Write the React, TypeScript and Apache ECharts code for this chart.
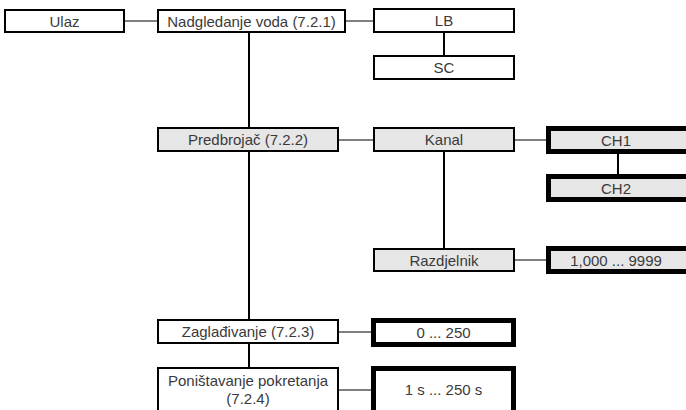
import React, { useEffect, useRef } from "react";
import * as echarts from "echarts";

// Node labels (content)
const nodeLabels = [
  "Ulaz",
  "Nadgledanje voda (7.2.1)",
  "LB",
  "SC",
  "Predbrojač (7.2.2)",
  "Kanal",
  "CH1",
  "CH2",
  "Razdjelnik",
  "1,000 ... 9999",
  "Zaglađivanje (7.2.3)",
  "0 ... 250",
  "Poništavanje pokretanja\n(7.2.4)",
  "1 s ... 250 s",
];

// Box kinds: 0 = white thin, 1 = grey thin, 2 = grey thick, 3 = white thick
const nodeKinds = [0, 0, 0, 0, 1, 1, 2, 2, 1, 2, 0, 3, 0, 3];

// Connections: [from, to, kind] kind 0 = grey horizontal, 1 = black vertical
const links: [number, number, number][] = [
  [0, 1, 0],
  [1, 2, 0],
  [2, 3, 1],
  [1, 4, 1],
  [4, 5, 0],
  [5, 6, 0],
  [6, 7, 1],
  [5, 8, 1],
  [8, 9, 0],
  [4, 10, 1],
  [10, 11, 0],
  [10, 12, 1],
  [12, 13, 0],
];

// Layout (outer box bounds in px): x0, y0, x1, y1
const layout: [number, number, number, number][] = [
  [4, 9, 125, 33],
  [157, 9, 346, 33],
  [373, 8, 515, 33],
  [373, 55, 515, 80],
  [157, 127, 339, 152],
  [373, 127, 515, 152],
  [546, 126, 700, 154],
  [546, 174, 700, 202],
  [373, 248, 515, 272],
  [546, 246, 700, 274],
  [157, 319, 339, 344],
  [371, 318, 516, 347],
  [157, 367, 339, 420],
  [371, 366, 516, 420],
];
// vertical link x positions (for from-node index)
const vertX: Record<string, number> = {
  "2-3": 444,
  "1-4": 249,
  "6-7": 618,
  "5-8": 444,
  "4-10": 249,
  "10-12": 249,
};
const textCenterY: Record<number, number> = { 12: 389, 13: 389 };

export default function App() {
  const ref = useRef<HTMLDivElement>(null);
  useEffect(() => {
    if (!ref.current) return;
    const chart = echarts.init(ref.current, null, { renderer: "svg" });
    const els: any[] = [];
    // links first
    links.forEach(([a, b, k]) => {
      const A = layout[a];
      const B = layout[b];
      if (k === 0) {
        const y = b === 13 ? 390 : Math.round((A[1] + A[3]) / 2);
        els.push({
          type: "line",
          shape: { x1: A[2], y1: y, x2: B[0], y2: y },
          style: { stroke: "#7f7f7f", lineWidth: 2 },
          z: 1,
        });
      } else {
        const x = vertX[`${a}-${b}`];
        els.push({
          type: "line",
          shape: { x1: x, y1: A[3], x2: x, y2: B[1] },
          style: { stroke: "#000", lineWidth: 2 },
          z: 1,
        });
      }
    });
    nodeLabels.forEach((label, i) => {
      const [x0, y0, x1, y1] = layout[i];
      const kind = nodeKinds[i];
      const thick = kind >= 2;
      const lw = thick ? 5 : 2;
      const fill = kind === 1 || kind === 2 ? "#e6e6e6" : "#ffffff";
      els.push({
        type: "rect",
        shape: { x: x0 + lw / 2, y: y0 + lw / 2, width: x1 - x0 - lw, height: y1 - y0 - lw },
        style: { fill, stroke: "#000", lineWidth: lw },
        z: 2,
      });
      const cx = i === 6 || i === 7 || i === 9 ? 616 : (x0 + x1) / 2;
      const cy = textCenterY[i] ?? (y0 + y1) / 2;
      els.push({
        type: "text",
        x: cx,
        y: cy,
        style: {
          text: label,
          fill: "#3a3a3a",
          font: "15px 'Liberation Sans', Arial, sans-serif",
          align: "center",
          verticalAlign: "middle",
          lineHeight: 18,
        },
        z: 3,
      });
    });
    chart.setOption({ animation: false, graphic: { elements: els } });
    return () => chart.dispose();
  }, []);
  return <div ref={ref} style={{ width: 686, height: 410, position: "absolute", left: 0, top: 0, background: "#fff" }} />;
}
